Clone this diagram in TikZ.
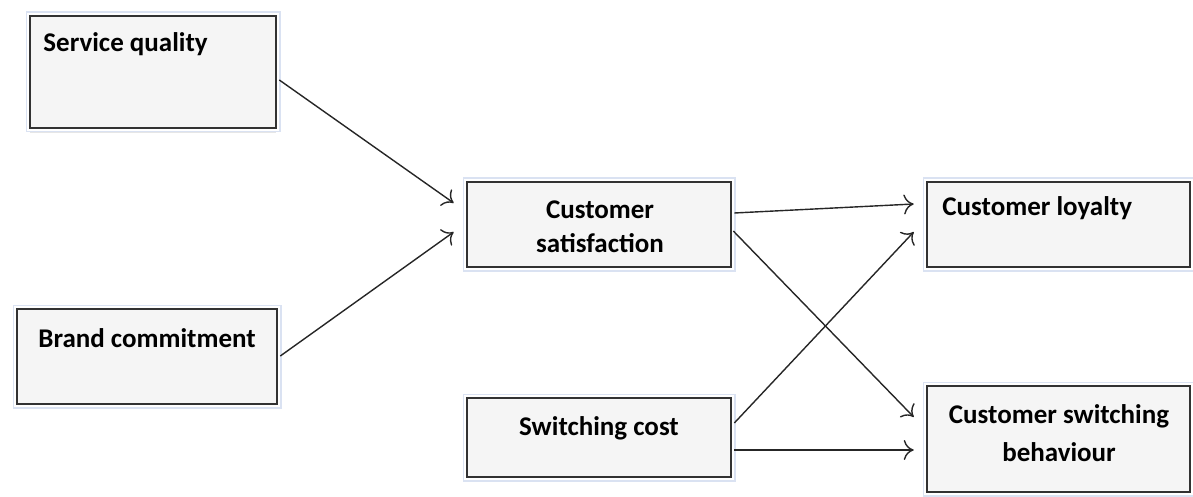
\documentclass[tikz,border=0pt]{standalone}
\usepackage{fontspec}
\setmainfont{Carlito}
\usepackage{xcolor}
\usetikzlibrary{arrows.meta,shadows}
\definecolor{boxfill}{RGB}{245,245,245}
\definecolor{boxline}{RGB}{50,50,50}
\definecolor{boxglow}{RGB}{218,226,242}

\begin{document}
\begin{tikzpicture}[x=0.5pt,y=-0.5pt,
    box/.style={draw=boxline, line width=1.3pt, fill=boxfill, inner sep=0pt,
      drop shadow={shadow xshift=0pt, shadow yshift=-2.5pt, opacity=0.2},
      preaction={draw=boxglow, line width=4.5pt},
      preaction={draw=white, line width=2.8pt}},
    lbl/.style={font=\fontsize{13.5}{17}\selectfont\bfseries, inner sep=0pt, align=center},
    link/.style={-{To[length=5pt,width=10pt]}, line width=0.7pt, black!85}]
  \useasboundingbox (0,0) rectangle (1193,497);
  % Boxes
  \node[box, minimum width=123pt, minimum height=56pt] (sq) at (153,72) {};
  \node[box, minimum width=130pt, minimum height=47.5pt] (bc) at (147,356.5) {};
  \node[box, minimum width=132pt, minimum height=42.5pt] (cs) at (599,224.5) {};
  \node[box, minimum width=131.5pt, minimum height=42.5pt] (cl) at (1058.5,224.5) {};
  \node[box, minimum width=132pt, minimum height=39.5pt] (sc) at (599,437.5) {};
  \node[box, minimum width=131.5pt, minimum height=53pt] (csb) at (1058.5,439) {};
  % Texts
  \node[lbl, anchor=west] (sqt) at (43,44) {Service quality};
  \node[lbl, anchor=west] (bct) at (38,338) {Brand commitment};
  \node[lbl] (cst) at (600,227) {Customer\\satisfaction};
  \node[lbl, anchor=west] (clt) at (942,208) {Customer loyalty};
  \node[lbl] (sct) at (599,428) {Switching cost};
  \node[lbl, font=\fontsize{13.5}{19}\selectfont\bfseries] (csbt) at (1059,433) {Customer switching\\behaviour};
  % Links
  \draw[link] ([shift={(2,8)}]sq.east) -- ([shift={(-12,-21.5)}]cs.west);
  \draw[link] ([shift={(2,-0.5)}]bc.east) -- ([shift={(-12,7.5)}]cs.west);
  \draw[link] ([shift={(2,-11.5)}]cs.east) -- ([shift={(-12,-20.5)}]cl.west);
  \draw[link] ([shift={(1,6.5)}]cs.east) -- ([shift={(-12,-22)}]csb.west);
  \draw[link] ([shift={(2,-14.5)}]sc.east) -- ([shift={(-12,7.5)}]cl.west);
  \draw[link] ([shift={(2,12.5)}]sc.east) -- ([shift={(-12,11)}]csb.west);
\end{tikzpicture}
\end{document}
